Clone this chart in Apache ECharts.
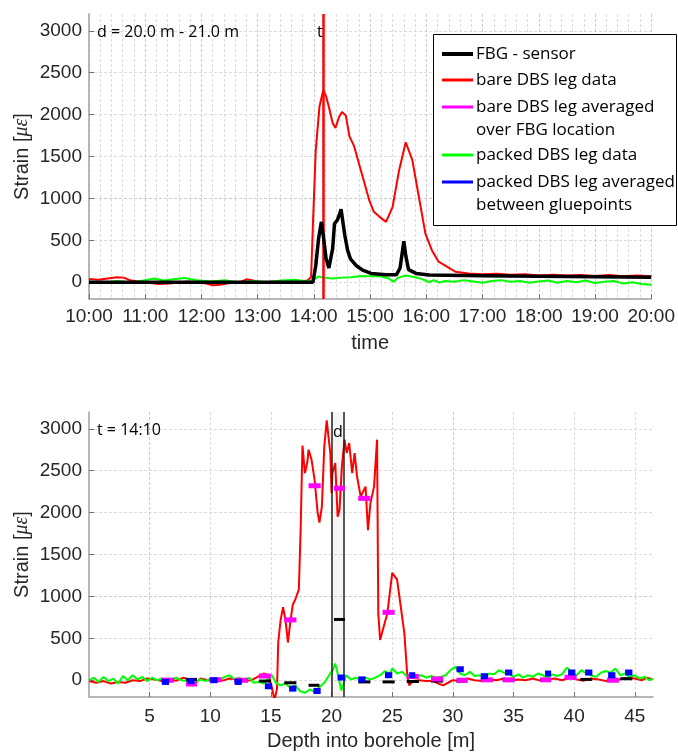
<!DOCTYPE html>
<html>
<head>
<meta charset="utf-8">
<title>Strain – FBG vs DBS</title>
<script src="https://cdn.jsdelivr.net/npm/echarts@6/dist/echarts.min.js"></script>
<style>
  html, body { margin: 0; padding: 0; background: #fff; }
  #chart { width: 678px; height: 755px; }
</style>
</head>
<body>
<div id="chart"></div>
<script>
// ---- top panel: strain over time at d = 20.0 m - 21.0 m ----
const fbgTime = [
  ['10:00', 0], ['12:00', 0], ['13:59', 0], ['14:02', 200], ['14:05', 520], ['14:08', 720],
  ['14:10', 560], ['14:13', 280], ['14:16', 170], ['14:18', 150], ['14:20', 400], ['14:22', 700],
  ['14:25', 740], ['14:27', 800], ['14:29', 870], ['14:31', 850], ['14:33', 560], ['14:36', 380],
  ['14:39', 280], ['14:45', 200], ['14:52', 145], ['15:01', 105], ['15:17', 88], ['15:28', 88],
  ['15:32', 170], ['15:34', 330], ['15:36', 490], ['15:38', 320], ['15:41', 150], ['15:49', 105],
  ['16:03', 85], ['17:00', 78], ['18:00', 72], ['19:00', 66], ['20:00', 58]
];
const bareTime = [
  ['10:00', 40], ['10:10', 30], ['10:20', 45], ['10:30', 60], ['10:37', 55], ['10:45', 20],
  ['10:55', 5], ['11:05', -10], ['11:15', -20], ['11:25', -15], ['11:35', -5], ['11:45', 10],
  ['11:55', 0], ['12:05', -15], ['12:12', -35], ['12:20', -30], ['12:30', -10], ['12:40', -5],
  ['12:48', 35], ['12:55', 20], ['13:05', -10], ['13:15', 5], ['13:25', -5], ['13:35', 10],
  ['13:45', 5], ['13:53', 20], ['13:57', 60], ['13:59', 700], ['14:02', 1580], ['14:06', 2100],
  ['14:10', 2290], ['14:13', 2220], ['14:16', 2090], ['14:20', 1900], ['14:23', 1840], ['14:27', 1975],
  ['14:30', 2030], ['14:34', 1990], ['14:38', 1740], ['14:43', 1620], ['14:48', 1420], ['14:54', 1180],
  ['14:59', 980], ['15:04', 840], ['15:10', 780], ['15:17', 720], ['15:24', 900], ['15:31', 1340],
  ['15:38', 1670], ['15:45', 1460], ['15:52', 1020], ['15:59', 580], ['16:06', 380], ['16:13', 245],
  ['16:22', 185], ['16:31', 125], ['16:45', 105], ['17:00', 95], ['17:15', 100], ['17:30', 90],
  ['17:45', 95], ['18:00', 80], ['18:15', 90], ['18:30', 80], ['18:45', 85], ['19:00', 75],
  ['19:15', 85], ['19:30', 70], ['19:45', 80], ['20:00', 70]
];
const packedTime = [
  ['10:00', 10], ['10:15', -10], ['10:30', 15], ['10:45', -5], ['11:00', 25], ['11:10', 45],
  ['11:20', 20], ['11:30', 35], ['11:42', 50], ['11:55', 25], ['12:10', 10], ['12:25', 25],
  ['12:40', -5], ['12:55', 15], ['13:10', 0], ['13:25', 20], ['13:40', 30], ['13:52', 10],
  ['14:00', 30], ['14:05', 70], ['14:10', 55], ['14:20', 45], ['14:30', 55], ['14:40', 60],
  ['14:50', 75], ['15:00', 70], ['15:10', 75], ['15:20', 45], ['15:25', 5], ['15:30', 55],
  ['15:38', 80], ['15:48', 60], ['15:55', 40], ['16:03', 0], ['16:08', 25], ['16:14', -5],
  ['16:20', 15], ['16:30', 5], ['16:40', 25], ['16:50', 10], ['17:00', -5], ['17:10', 15],
  ['17:20', 25], ['17:30', 5], ['17:40', 15], ['17:50', -5], ['18:00', 10], ['18:10', 20],
  ['18:20', -5], ['18:30', 15], ['18:40', 0], ['18:50', 20], ['19:00', -10], ['19:10', 5],
  ['19:20', 15], ['19:30', -15], ['19:40', 0], ['19:50', -20], ['20:00', -30]
];
const snapshotTime = '14:10';

// ---- bottom panel: strain along the borehole at t = 14:10 ----
const bareDepth = [
  [0, -10], [0.6, -30], [1.2, -10], [1.8, -40], [2.4, -20], [3.0, -30], [3.6, 0], [4.2, -10],
  [4.8, 20], [5.4, 10], [6.0, -10], [6.6, 10], [7.2, -5], [7.8, 30], [8.2, 10], [8.5, -60],
  [8.8, -30], [9.2, 20], [9.8, 0], [10.4, 10], [11.0, -5], [11.6, 20], [12.2, 10], [12.8, -5],
  [13.4, 0], [13.9, 40], [14.4, 80], [14.8, 60], [15.1, -100], [15.3, -240], [15.5, -100],
  [15.6, 450], [15.8, 720], [16.0, 870], [16.2, 720], [16.4, 450], [16.6, 700], [16.8, 900],
  [17.0, 960], [17.3, 1080], [17.45, 1800], [17.6, 2800], [17.8, 2470], [18.0, 2600], [18.1, 2750],
  [18.35, 2630], [18.6, 2390], [18.85, 2000], [19.0, 1880], [19.2, 2070], [19.4, 2790], [19.6, 3100],
  [19.75, 2900], [19.9, 2700], [20.0, 2230], [20.07, 2470], [20.3, 2590], [20.5, 1950], [20.65, 2030],
  [20.85, 2550], [21.07, 2870], [21.25, 2710], [21.45, 2830], [21.7, 2470], [21.9, 2710], [22.1, 2430],
  [22.4, 2190], [22.6, 2250], [22.8, 2310], [23.0, 1790], [23.2, 2110], [23.5, 2310], [23.75, 2870],
  [23.85, 800], [24.0, 480], [24.3, 640], [24.6, 800], [25.0, 1280], [25.4, 1200], [25.7, 880],
  [26.0, 560], [26.25, 40], [26.4, -60], [26.7, -10], [27.2, 0], [27.8, -10], [28.4, -10],
  [28.8, -40], [29.2, -60], [29.6, -30], [30.0, 0], [30.6, -10], [31.2, 20], [31.8, 0], [32.4, -10],
  [33.0, 10], [33.6, 0], [34.2, 20], [34.8, -5], [35.4, 10], [36.0, 0], [36.6, 20], [37.2, -5],
  [37.8, 10], [38.4, 20], [39.0, 0], [39.6, 30], [40.2, 10], [40.8, -5], [41.4, 20], [42.0, 10],
  [42.6, -10], [43.2, 20], [43.8, 10], [44.4, 30], [45.0, 20], [45.6, 0], [46.0, 30], [46.5, 10]
];
const packedDepth = [
  [0, 0], [0.4, 30], [0.8, -20], [1.2, 40], [1.6, -10], [2.0, 20], [2.4, -40], [2.8, 50],
  [3.2, 0], [3.6, 60], [4.0, 10], [4.4, 40], [4.8, -10], [5.2, 30], [5.6, 0], [6.0, 20],
  [6.4, -10], [6.8, 10], [7.2, 30], [7.6, 0], [8.0, -10], [8.4, 20], [8.8, -20], [9.2, 10],
  [9.6, -10], [10.0, 20], [10.4, 0], [10.8, 10], [11.2, 40], [11.6, 60], [12.0, 10], [12.4, 30],
  [12.8, -10], [13.2, 30], [13.6, -30], [14.0, -20], [14.4, -40], [14.8, 20], [15.1, 60], [15.4, -30],
  [15.8, -60], [16.2, -40], [16.6, -90], [17.0, -60], [17.4, -130], [17.8, -150], [18.2, -110],
  [18.6, -140], [19.0, -80], [19.4, -30], [19.8, 60], [20.1, 120], [20.3, 200], [20.5, 80],
  [20.8, -120], [21.0, -40], [21.2, 60], [21.6, 10], [22.0, 30], [22.4, 0], [22.8, 30], [23.2, 10],
  [23.6, 30], [24.0, 60], [24.4, 110], [24.8, 70], [25.0, 140], [25.4, 80], [25.8, 100], [26.2, 50],
  [26.6, 80], [27.0, 40], [27.4, 60], [27.8, 30], [28.2, 50], [28.6, 30], [29.0, 40], [29.4, 60],
  [29.8, 120], [30.2, 160], [30.6, 80], [31.0, 60], [31.4, 100], [31.8, 50], [32.2, 60], [32.6, 30],
  [33.0, 80], [33.4, 70], [33.8, 120], [34.2, 90], [34.6, 80], [35.0, 40], [35.4, 70], [35.8, 30],
  [36.2, 60], [36.6, 40], [37.0, 80], [37.4, 60], [37.8, 30], [38.2, 70], [38.6, 50], [39.0, 70],
  [39.4, 150], [39.8, 100], [40.2, 60], [40.6, 120], [41.0, 80], [41.4, 60], [41.8, 40], [42.2, 90],
  [42.6, 110], [43.0, 90], [43.4, 140], [43.8, 60], [44.2, 80], [44.6, 40], [45.0, 60], [45.4, 20],
  [45.8, 40], [46.2, 0], [46.5, 20]
];
// [from depth, to depth, strain]
const fbgBars = [
  [6.0, 7.0, 10], [8.0, 8.9, 10], [9.9, 10.9, 10], [12.0, 13.1, -5], [14.0, 15.0, -10],
  [16.1, 17.1, -30], [18.1, 19.0, -60], [20.2, 21.1, 725], [22.2, 23.2, -20], [24.2, 25.2, -20],
  [26.2, 27.2, -15], [28.2, 29.2, -10], [30.3, 31.2, -10], [32.3, 33.3, 0], [34.1, 35.1, 8],
  [37.2, 38.1, 8], [40.5, 41.5, 10], [43.8, 44.8, 18]
];
const bareAvgBars = [
  [6.0, 7.0, 0], [8.0, 8.9, -45], [9.9, 10.9, 5], [12.0, 13.1, 0], [14.0, 15.0, 50],
  [16.1, 17.1, 720], [18.1, 19.1, 2320], [20.2, 21.1, 2290], [22.2, 23.2, 2170], [24.2, 25.2, 810],
  [26.2, 27.2, 45], [28.2, 29.2, 15], [30.3, 31.2, 0], [32.3, 33.3, 5], [34.1, 35.1, 5],
  [37.2, 38.1, 5], [39.2, 40.2, 35], [42.7, 43.7, 0]
];
const packedAvgBars = [
  [6.0, 6.6, -20], [8.1, 8.7, -10], [10.0, 10.6, 0], [12.0, 12.6, -20], [14.5, 15.1, -72],
  [16.5, 17.1, -100], [18.5, 19.1, -128], [20.5, 21.1, 32], [22.2, 22.8, 10], [24.4, 25.0, 60],
  [26.4, 26.9, 60], [30.3, 30.9, 131], [32.3, 32.9, 48], [34.3, 34.9, 92], [37.6, 38.1, 80],
  [39.5, 40.1, 92], [40.9, 41.5, 92], [42.8, 43.4, 60], [44.2, 44.8, 92]
];
const fbgSection = [20, 21];

const strainTicks = [0, 500, 1000, 1500, 2000, 2500, 3000];
const depthTicks = [5, 10, 15, 20, 25, 30, 35, 40, 45];

const toHours = s => { const [h, m] = s.split(':').map(Number); return h + m / 60; };

const RED = '#ff0000', GREEN = '#00ff00', BLACK = '#000000', MAGENTA = '#ff00ff', BLUE = '#0000ff';
const MAJOR = '#cbcbcb', MINOR = '#dcdcdc';
const DASH = [3, 2];
const labelFont = 'Liberation Sans, Arial, sans-serif';
const noteFont = 'Open Sans, sans-serif';

// major/minor colour cycle for split lines drawn at every 100 / every 1
function gridColors(min, max, step, majorEvery) {
  const out = [];
  for (let v = min; v <= max + 1e-9; v += step) {
    out.push(Math.abs(Math.round(v / step) % Math.round(majorEvery / step)) === 0 ? MAJOR : MINOR);
  }
  out.push(MINOR);
  return out;
}

function strainAxis(gridIndex) {
  return {
    type: 'value', gridIndex, min: -200, max: 3200, interval: 100,
    name: 'Strain [{i|με}]', nameLocation: 'middle', nameGap: 57, nameMoveOverlap: false,
    nameTextStyle: {
      fontSize: 20, color: '#262626', fontFamily: labelFont,
      rich: { i: { fontSize: 20, fontStyle: 'italic', fontFamily: 'Liberation Serif, serif', color: '#262626' } }
    },
    axisLine: { show: true, onZero: false, lineStyle: { color: '#a0a0a0', width: 1.5 } },
    axisTick: { show: true, inside: true, length: 5, customValues: strainTicks, lineStyle: { color: '#707070' } },
    axisLabel: {
      customValues: strainTicks, fontSize: 19, color: '#262626', fontFamily: labelFont, margin: 7,
      formatter: v => (v % 500 === 0 && v >= 0 ? String(v) : '')
    },
    splitLine: { show: true, lineStyle: { color: gridColors(-200, 3200, 100, 500), type: DASH, width: 1 } }
  };
}

function barSeries(name, bars, color, width, z) {
  return {
    name, type: 'custom', xAxisIndex: 1, yAxisIndex: 1, z,
    data: bars,
    encode: { x: [0, 1], y: 2 },
    renderItem: (params, api) => {
      const a = api.coord([api.value(0), api.value(2)]);
      const b = api.coord([api.value(1), api.value(2)]);
      return {
        type: 'line',
        shape: { x1: a[0], y1: a[1], x2: b[0], y2: b[1] },
        style: { stroke: color, lineWidth: width }
      };
    }
  };
}

const chart = echarts.init(document.getElementById('chart'), null, { renderer: 'canvas' });

const legendRows = [
  { y: 54, color: BLACK, width: 4, text: 'FBG - sensor' },
  { y: 80, color: RED, width: 3, text: 'bare DBS leg data' },
  { y: 107, color: MAGENTA, width: 3, text: 'bare DBS leg averaged' },
  { y: 130, text: 'over FBG location' },
  { y: 155, color: GREEN, width: 3, text: 'packed DBS leg data' },
  { y: 182, color: BLUE, width: 3, text: 'packed DBS leg averaged' },
  { y: 205, text: 'between gluepoints' }
];
const legendGraphics = [{
  type: 'rect', shape: { x: 433.5, y: 34.5, width: 243, height: 191 },
  style: { fill: '#fff', stroke: '#000', lineWidth: 1 }, z: 100
}];
legendRows.forEach(r => {
  if (r.color) {
    legendGraphics.push({
      type: 'line', shape: { x1: 442, y1: r.y, x2: 473, y2: r.y },
      style: { stroke: r.color, lineWidth: r.width }, z: 101
    });
  }
  legendGraphics.push({
    type: 'text', x: 476, y: r.y, z: 101,
    style: { text: r.text, fill: '#000', font: '17px ' + noteFont, verticalAlign: 'middle' }
  });
});

const note = (text, x, y) => ({
  type: 'text', x, y, z: 100,
  style: { text, fill: '#000', font: '16px ' + noteFont, verticalAlign: 'middle' }
});

const option = {
  backgroundColor: '#fff',
  animation: false,
  grid: [
    { left: 89, right: 25, top: 14, height: 285 },
    { left: 89, right: 25, top: 412, height: 285 }
  ],
  xAxis: [
    {
      type: 'value', gridIndex: 0, min: 10, max: 20, interval: 1,
      name: 'time', nameLocation: 'middle', nameGap: 34,
      nameTextStyle: { fontSize: 20, color: '#262626', fontFamily: labelFont },
      axisLine: { show: true, onZero: false, lineStyle: { color: '#a0a0a0', width: 1.5 } },
      axisTick: { show: true, inside: true, length: 5, lineStyle: { color: '#707070' } },
      axisLabel: {
        fontSize: 19, color: '#262626', fontFamily: labelFont, margin: 8,
        formatter: v => String(Math.round(v)).padStart(2, '0') + ':00'
      },
      splitLine: { show: true, lineStyle: { color: MAJOR, type: DASH } },
      minorTick: { show: false, splitNumber: 5 },
      minorSplitLine: { show: true, lineStyle: { color: MINOR, type: DASH } }
    },
    {
      type: 'value', gridIndex: 1, min: 0, max: 46.5, interval: 1,
      name: 'Depth into borehole [m]', nameLocation: 'middle', nameGap: 34,
      nameTextStyle: { fontSize: 20, color: '#262626', fontFamily: labelFont },
      axisLine: { show: true, onZero: false, lineStyle: { color: '#a0a0a0', width: 1.5 } },
      axisTick: { show: true, inside: true, length: 5, customValues: depthTicks, lineStyle: { color: '#707070' } },
      axisLabel: {
        customValues: depthTicks, fontSize: 19, color: '#262626', fontFamily: labelFont, margin: 10,
        formatter: v => (v > 0 && v % 5 === 0 ? String(v) : '')
      },
      splitLine: { show: true, lineStyle: { color: gridColors(0, 46, 1, 5), type: DASH } }
    }
  ],
  yAxis: [strainAxis(0), strainAxis(1)],
  series: [
    {
      name: 'bare DBS leg data', type: 'line', xAxisIndex: 0, yAxisIndex: 0,
      data: bareTime.map(([t, v]) => [toHours(t), v]),
      showSymbol: false, lineStyle: { color: RED, width: 2 }, itemStyle: { color: RED }, z: 3,
      markLine: {
        silent: true, symbol: 'none', label: { show: false },
        lineStyle: { color: RED, width: 2.5, type: 'solid' },
        data: [{ xAxis: toHours(snapshotTime) }]
      }
    },
    {
      name: 'packed DBS leg data', type: 'line', xAxisIndex: 0, yAxisIndex: 0,
      data: packedTime.map(([t, v]) => [toHours(t), v]),
      showSymbol: false, lineStyle: { color: GREEN, width: 2 }, z: 4
    },
    {
      name: 'FBG - sensor', type: 'line', xAxisIndex: 0, yAxisIndex: 0,
      data: fbgTime.map(([t, v]) => [toHours(t), v]),
      showSymbol: false, lineStyle: { color: BLACK, width: 3.5 }, z: 5
    },
    {
      name: 'bare DBS leg data (depth)', type: 'line', xAxisIndex: 1, yAxisIndex: 1,
      data: bareDepth, showSymbol: false, lineStyle: { color: RED, width: 2 }, z: 3,
      markArea: {
        silent: true, label: { show: false }, itemStyle: { color: 'rgba(190,175,160,0.12)' },
        data: [[{ xAxis: fbgSection[0] }, { xAxis: fbgSection[1] }]]
      },
      markLine: {
        silent: true, symbol: 'none', label: { show: false },
        lineStyle: { color: '#222', width: 1.5, type: 'solid' },
        data: fbgSection.map(d => ({ xAxis: d }))
      }
    },
    {
      name: 'packed DBS leg data (depth)', type: 'line', xAxisIndex: 1, yAxisIndex: 1,
      data: packedDepth, showSymbol: false, lineStyle: { color: GREEN, width: 2 }, z: 4
    },
    barSeries('FBG - sensor (depth)', fbgBars, BLACK, 3, 5),
    barSeries('bare DBS leg averaged', bareAvgBars, MAGENTA, 5, 6),
    barSeries('packed DBS leg averaged', packedAvgBars, BLUE, 6, 7)
  ],
  graphic: [
    note('d = 20.0 m - 21.0 m', 97, 32),
    note('t', 317, 32),
    note('t = 14:10', 97, 430),
    note('d', 333, 432)
  ].concat(legendGraphics)
};

chart.setOption(option);
</script>
</body>
</html>
